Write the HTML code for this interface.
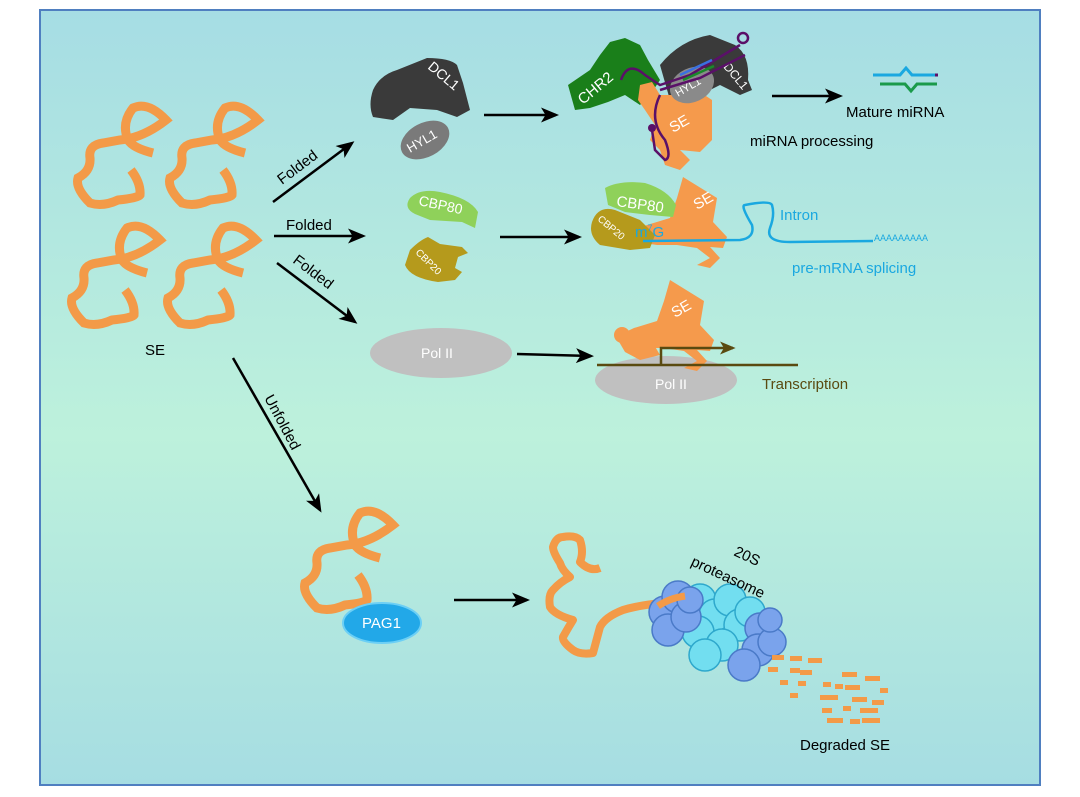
<!DOCTYPE html>
<html><head><meta charset="utf-8"><style>
html,body{margin:0;padding:0;background:#fff;}
svg{display:block;font-family:"Liberation Sans",Arial,sans-serif;}
</style></head><body>
<svg width="1080" height="797" viewBox="0 0 1080 797" xmlns="http://www.w3.org/2000/svg">
<defs>
<linearGradient id="bg" x1="0" y1="0" x2="0" y2="1">
<stop offset="0" stop-color="#a6dde4"/><stop offset="0.55" stop-color="#bdf1dc"/><stop offset="1" stop-color="#a6dde2"/>
</linearGradient>
<marker id="ah" viewBox="0 0 12 10" refX="10" refY="5" markerWidth="19" markerHeight="15" markerUnits="userSpaceOnUse" orient="auto">
<path d="M0,0 L12,5 L0,10 L3,5 Z" fill="#000"/></marker>
<marker id="ah2" viewBox="0 0 12 10" refX="10" refY="5" markerWidth="16" markerHeight="13" markerUnits="userSpaceOnUse" orient="auto">
<path d="M0,0 L12,5 L0,10 L3,5 Z" fill="#5a4a10"/></marker>
<g id="se"><path d="M80,50 Q60,45 55,37 Q48,20 60,5 Q75,-2 93,17 Q70,35 47,37 L30,40 Q15,42 17,55 Q18,68 5,75 Q2,85 17,100 Q30,104 45,97 Q65,95 67,92 Q68,80 58,67" fill="none" stroke="#f39a48" stroke-width="9" stroke-linecap="butt"/></g>
<path id="seblob" d="M683,177 L717,198 L713,222 L727,237 L723,248 L710,247 L720,258 L710,268 L697,265 L710,258 L697,248 L677,245 L657,245 L637,242 L630,233 L647,225 L670,218 L677,198 Z" fill="#f59a4c"/>
</defs>
<rect x="0" y="0" width="1080" height="797" fill="#fff"/>
<rect x="40" y="10" width="1000" height="775" fill="url(#bg)" stroke="#4f7fc0" stroke-width="2"/>

<!-- SE clusters -->
<use href="#se" x="73" y="103"/>
<use href="#se" x="165" y="103"/>
<use href="#se" x="67" y="223"/>
<use href="#se" x="163" y="223"/>
<text x="145" y="355" font-size="15">SE</text>

<!-- arrows -->
<g stroke="#000" stroke-width="2.5" fill="none" marker-end="url(#ah)">
<line x1="273" y1="202" x2="352" y2="143"/>
<line x1="274" y1="236" x2="363" y2="236"/>
<line x1="277" y1="263" x2="355" y2="322"/>
<line x1="233" y1="358" x2="320" y2="510"/>
<line x1="484" y1="115" x2="556" y2="115"/>
<line x1="500" y1="237" x2="579" y2="237"/>
<line x1="517" y1="354" x2="591" y2="356"/>
<line x1="772" y1="96" x2="840" y2="96"/>
<line x1="454" y1="600" x2="527" y2="600"/>
</g>
<g font-size="15">
<text transform="translate(282,185) rotate(-37)">Folded</text>
<text x="286" y="230">Folded</text>
<text transform="translate(292,262) rotate(37)">Folded</text>
<text transform="translate(264,398) rotate(62)">Unfolded</text>
</g>

<!-- DCL1 / HYL1 -->
<path d="M373,90 Q380,75 397,70 L427,58 Q450,58 457,65 L463,83 L470,110 L457,117 L437,110 L410,108 L393,120 L373,117 Q368,105 373,90Z" fill="#3a3a3a"/>
<text transform="translate(427,68) rotate(40)" fill="#fff" font-size="14">DCL1</text>
<ellipse cx="425" cy="140" rx="26" ry="17" transform="rotate(-28 425 140)" fill="#7a7a7a"/>
<text transform="translate(410,153) rotate(-30)" fill="#fff" font-size="13">HYL1</text>

<!-- CBP80 / CBP20 -->
<path d="M410,198 Q420,188 440,192 Q470,198 478,212 L475,228 L462,222 L430,220 L415,214 Q403,208 410,198Z" fill="#8fd15a"/>
<text transform="translate(418,205) rotate(12)" fill="#fff" font-size="14">CBP80</text>
<path d="M410,250 Q420,240 428,237 L440,244 L462,247 L468,253 L458,257 L455,268 L462,272 L455,280 L438,282 Q410,278 405,265Z" fill="#b59a1c"/>
<text transform="translate(415,253) rotate(45)" fill="#fff" font-size="10">CBP20</text>

<!-- Pol II -->
<ellipse cx="441" cy="353" rx="71" ry="25" fill="#c0c0c0"/>
<text x="421" y="358" fill="#fff" font-size="14">Pol II</text>

<!-- miRNA complex -->
<path d="M568,85 L590,70 L600,55 L610,42 L625,38 L640,45 L648,60 L660,80 L650,95 L640,105 L625,95 L608,102 L590,108 L575,110 Z" fill="#1a7f1a"/>
<text transform="translate(583,105) rotate(-40)" fill="#fff" font-size="15">CHR2</text>
<path d="M660,65 Q680,40 710,35 L735,45 Q750,55 748,80 L752,90 L740,95 L720,85 L700,95 L670,100Z" fill="#3a3a3a"/>
<text transform="translate(723,67) rotate(50)" fill="#fff" font-size="12">DCL1</text>
<path d="M640,85 L652,82 L660,95 L680,95 L700,92 L712,100 L712,140 L700,152 L680,150 L690,160 L680,170 L665,165 L660,150 L650,140 L655,125 L645,110 L638,100Z" fill="#f59a4c"/>
<ellipse cx="692" cy="85" rx="23" ry="17" transform="rotate(-25 692 85)" fill="#8a8a8a"/>
<text transform="translate(678,97) rotate(-30)" fill="#fff" font-size="11">HYL1</text>
<text transform="translate(673,133) rotate(-30)" fill="#fff" font-size="15">SE</text>
<path d="M621,80 Q628,60 645,75 L660,85 L690,75 L740,45" fill="none" stroke="#5a1068" stroke-width="2.5"/>
<path d="M660,90 L700,78 L745,55" fill="none" stroke="#5a1068" stroke-width="2.5"/>
<circle cx="743" cy="38" r="5" fill="none" stroke="#5a1068" stroke-width="2.5"/>
<path d="M660,95 Q648,120 665,140 Q672,158 665,160 L655,150 L652,130" fill="none" stroke="#5a1068" stroke-width="2.5"/>
<circle cx="652" cy="128" r="4" fill="#5a1068"/>
<line x1="680" y1="75" x2="712" y2="60" stroke="#3a70e0" stroke-width="2.5"/>
<line x1="683" y1="80" x2="714" y2="66" stroke="#1a8a2a" stroke-width="2.5"/>
<text x="750" y="146" font-size="15">miRNA processing</text>
<!-- Mature miRNA -->
<path d="M873,75 L900,75 L906,68 L912,75 L935,75" fill="none" stroke="#1aa8e0" stroke-width="3"/>
<path d="M880,84 L905,84 L911,91 L917,84 L937,84" fill="none" stroke="#1a9a4a" stroke-width="3"/>
<line x1="935" y1="75" x2="938" y2="75" stroke="#5a1068" stroke-width="3"/>
<text x="846" y="117" font-size="15">Mature miRNA</text>

<!-- splicing complex -->
<use href="#seblob"/>
<path d="M605,188 Q620,180 645,183 Q668,190 676,205 L673,217 L650,215 L625,212 L608,205Z" fill="#8fd15a"/>
<path d="M592,222 Q598,205 615,210 L640,220 L655,235 L650,248 L630,250 L600,245 Q588,235 592,222Z" fill="#b59a1c"/>
<text x="616" y="206" fill="#fff" font-size="15" transform="rotate(8 616 206)">CBP80</text>
<text transform="translate(697,210) rotate(-30)" fill="#fff" font-size="15">SE</text>
<text transform="translate(597,220) rotate(40)" fill="#fff" font-size="10">CBP20</text>
<text x="635" y="237" fill="#1aa8e0" font-size="15">m<tspan font-size="9" dy="-6">7</tspan><tspan dy="6">G</tspan></text>
<path d="M643,241 L740,240 Q755,238 752,225 Q740,205 745,205 Q770,200 772,205 Q775,215 770,228 Q765,242 790,242 L873,241" fill="none" stroke="#1aa8e0" stroke-width="2.5"/>
<text x="874" y="241" fill="#1aa8e0" font-size="9">AAAAAAAAA</text>
<text x="780" y="220" fill="#1aa8e0" font-size="15">Intron</text>
<text x="792" y="273" fill="#1aa8e0" font-size="15">pre-mRNA splicing</text>

<!-- transcription -->
<ellipse cx="666" cy="380" rx="71" ry="24" fill="#c0c0c0"/>
<use href="#seblob" transform="translate(-13,103)"/>
<circle cx="622" cy="335" r="8" fill="#f59a4c"/>
<path d="M618,340 L650,338 L660,355 L640,360 L625,352Z" fill="#f59a4c"/>
<text transform="translate(675,318) rotate(-30)" fill="#fff" font-size="15">SE</text>
<line x1="597" y1="365" x2="798" y2="365" stroke="#5a4a10" stroke-width="2.5"/>
<path d="M661,365 L661,348 L733,348" fill="none" stroke="#5a4a10" stroke-width="2.5" marker-end="url(#ah2)"/>
<text x="655" y="389" fill="#fff" font-size="14">Pol II</text>
<text x="762" y="389" fill="#5a4a10" font-size="15">Transcription</text>

<!-- PAG1 -->
<use href="#se" transform="translate(300,508)"/>
<ellipse cx="382" cy="623" rx="39" ry="20" fill="#22a8e8" stroke="#6ccff5" stroke-width="2"/>
<text x="362" y="628" fill="#fff" font-size="15">PAG1</text>

<!-- proteasome SE -->
<path d="M662,603 Q640,605 623,610 Q605,617 600,627 L593,653 Q580,655 573,650 Q562,642 563,637 Q568,628 573,620 Q555,615 550,607 Q548,595 553,590 Q560,582 570,577 Q562,570 560,563 Q553,552 553,547 Q556,537 563,537 Q575,535 580,540 Q584,552 580,562 Q590,572 600,568" fill="none" stroke="#f39a48" stroke-width="8" stroke-linejoin="round"/>
<!-- proteasome -->
<g stroke="#2ea8cc" stroke-width="1.5" fill="#72def0">
<circle cx="700" cy="600" r="16"/><circle cx="715" cy="615" r="16"/><circle cx="698" cy="632" r="16"/><circle cx="730" cy="600" r="16"/>
<circle cx="740" cy="625" r="16"/><circle cx="722" cy="645" r="16"/><circle cx="705" cy="655" r="16"/><circle cx="750" cy="612" r="15"/>
</g>
<g stroke="#4a7ac8" stroke-width="1.5" fill="#7aa3ec">
<circle cx="665" cy="612" r="16"/><circle cx="678" cy="597" r="16"/><circle cx="668" cy="630" r="16"/><circle cx="686" cy="617" r="15"/><circle cx="690" cy="600" r="13"/>
</g>
<g stroke="#4a7ac8" stroke-width="1.5" fill="#7aa3ec">
<circle cx="760" cy="628" r="15"/><circle cx="758" cy="650" r="16"/><circle cx="744" cy="665" r="16"/><circle cx="772" cy="642" r="14"/><circle cx="770" cy="620" r="12"/>
</g>
<path d="M658,606 Q670,598 685,596" fill="none" stroke="#f39a48" stroke-width="7"/>
<text transform="translate(733,555) rotate(25)" font-size="15">20S</text>
<text transform="translate(690,565) rotate(25)" font-size="15">proteasome</text>
<g fill="#f39a48">
<rect x="772" y="655" width="12" height="5"/><rect x="790" y="656" width="12" height="5"/><rect x="808" y="658" width="14" height="5"/>
<rect x="768" y="667" width="10" height="5"/><rect x="790" y="668" width="10" height="5"/><rect x="800" y="670" width="12" height="5"/>
<rect x="780" y="680" width="8" height="5"/><rect x="798" y="681" width="8" height="5"/><rect x="790" y="693" width="8" height="5"/>
<rect x="842" y="672" width="15" height="5"/><rect x="865" y="676" width="15" height="5"/><rect x="823" y="682" width="8" height="5"/>
<rect x="835" y="684" width="8" height="5"/><rect x="845" y="685" width="15" height="5"/><rect x="880" y="688" width="8" height="5"/>
<rect x="820" y="695" width="18" height="5"/><rect x="852" y="697" width="15" height="5"/><rect x="872" y="700" width="12" height="5"/>
<rect x="822" y="708" width="10" height="5"/><rect x="843" y="706" width="8" height="5"/><rect x="860" y="708" width="18" height="5"/>
<rect x="827" y="718" width="16" height="5"/><rect x="850" y="719" width="10" height="5"/><rect x="862" y="718" width="18" height="5"/>
</g>
<text x="800" y="750" font-size="15">Degraded SE</text>
</svg>
</body></html>
